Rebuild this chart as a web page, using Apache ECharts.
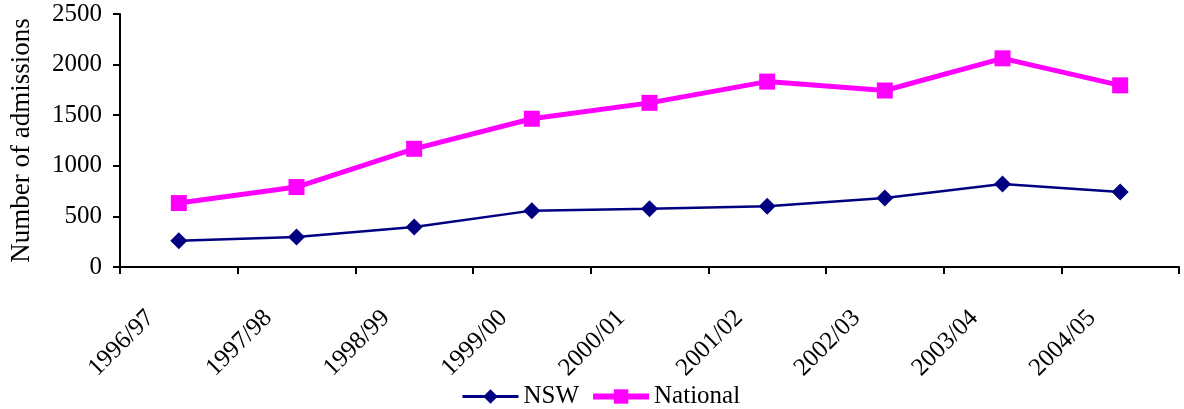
<!DOCTYPE html>
<html>
<head>
<meta charset="utf-8">
<script src="https://cdn.jsdelivr.net/npm/echarts@6/dist/echarts.min.js"></script>
<style>
html,body{margin:0;padding:0;background:#fff;}
#chart{width:1184px;height:409px;}
</style>
</head>
<body>
<div id="chart"></div>
<script>
const categories = ['1996/97','1997/98','1998/99','1999/00','2000/01','2001/02','2002/03','2003/04','2004/05'];
const nswValues = [260, 297, 396, 557, 575, 600, 682, 820, 742];
const nationalValues = [632, 790, 1168, 1465, 1622, 1832, 1744, 2062, 1795];
const yTicks = [0, 500, 1000, 1500, 2000, 2500];

const FONT = 'Liberation Serif';
const chart = echarts.init(document.getElementById('chart'), null, {renderer: 'canvas'});
chart.setOption({
  animation: false,
  backgroundColor: '#ffffff',
  textStyle: {fontFamily: FONT, color: '#000'},
  grid: {left: 110, right: 5, top: 14, bottom: 142, containLabel: false},
  legend: {
    left: 456, top: 379,
    itemWidth: 56, itemHeight: 18, itemGap: 11,
    textStyle: {fontFamily: FONT, fontSize: 25, color: '#000'},
    data: [
      {name: 'NSW', lineStyle: {width: 3}},
      {name: 'National', lineStyle: {width: 6}}
    ]
  },
  xAxis: {
    type: 'category',
    data: categories,
    boundaryGap: true,
    axisLine: {lineStyle: {color: '#000', width: 2}},
    axisTick: {show: true, inside: false, length: 7, alignWithLabel: false, lineStyle: {color: '#000', width: 2}},
    axisLabel: {rotate: 45, margin: 19, fontFamily: FONT, fontSize: 25, color: '#000', interval: 0, padding: [0, 40, 0, 0]},
    splitLine: {show: false}
  },
  yAxis: {
    type: 'value',
    min: yTicks[0], max: yTicks[yTicks.length - 1], interval: 500,
    name: 'Number of admissions',
    nameLocation: 'middle',
    nameGap: 85,
    nameTextStyle: {fontFamily: FONT, fontSize: 27, color: '#000'},
    axisLine: {show: true, lineStyle: {color: '#000', width: 2}},
    axisTick: {show: true, inside: false, length: 7, lineStyle: {color: '#000', width: 2}},
    axisLabel: {margin: 18, fontFamily: FONT, fontSize: 25, color: '#000', formatter: function (v) { return String(v); }},
    splitLine: {show: false}
  },
  series: [
    {
      name: 'NSW', type: 'line', data: nswValues,
      symbol: 'diamond', symbolSize: 17,
      itemStyle: {color: '#000080'},
      lineStyle: {color: '#000080', width: 2.5}
    },
    {
      name: 'National', type: 'line', data: nationalValues,
      symbol: 'rect', symbolSize: 16,
      itemStyle: {color: '#FF00FF'},
      lineStyle: {color: '#FF00FF', width: 5}
    }
  ]
});
</script>
</body>
</html>
